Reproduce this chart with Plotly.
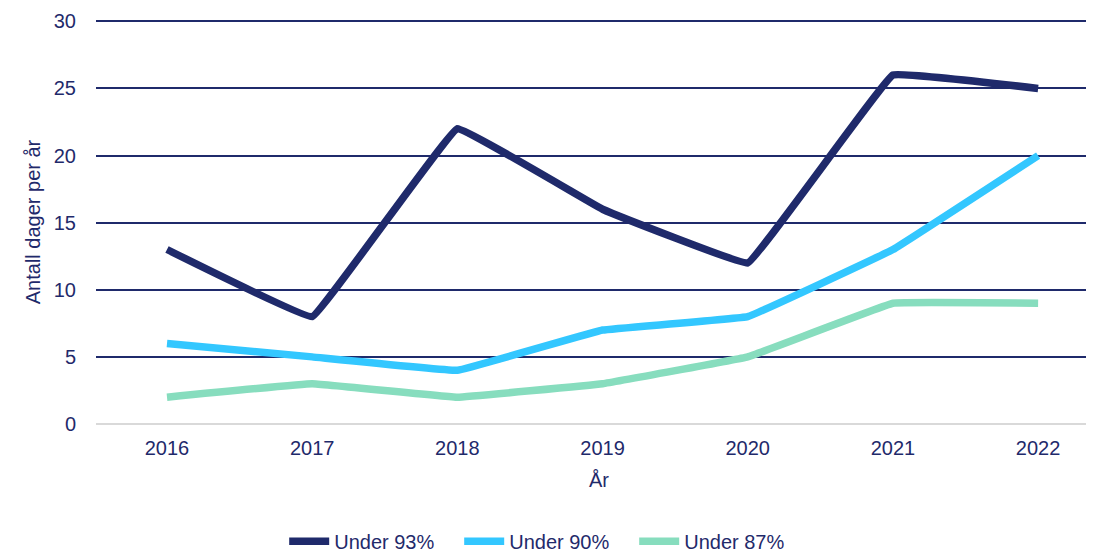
import plotly.graph_objects as go

years = ["2016", "2017", "2018", "2019", "2020", "2021", "2022"]
under_93 = [13, 8, 22, 16, 12, 26, 25]
under_90 = [6, 5, 4, 7, 8, 13, 20]
under_87 = [2, 3, 2, 3, 5, 9, 9]
series_names = ["Under 93%", "Under 90%", "Under 87%"]
colors = ["#1F2A6B", "#33C7FF", "#87DDBE"]
y_ticks = [0, 5, 10, 15, 20, 25, 30]

TEXT = "#1F2A6B"
FONT = "Liberation Sans, Arial, sans-serif"
FS = 20

fig = go.Figure()
for name, vals, col in zip(series_names, [under_93, under_90, under_87], colors):
    fig.add_trace(go.Scatter(
        x=years, y=vals, name=name, mode="lines",
        line=dict(color=col, width=7.5, shape="spline", smoothing=0.15),
    ))

fig.update_layout(
    width=1094, height=551,
    margin=dict(l=88, r=0, t=12.4, b=135, autoexpand=False),
    paper_bgcolor="white", plot_bgcolor="white",
    font=dict(family=FONT, size=FS, color=TEXT),
    showlegend=True,
    legend=dict(orientation="h", xref="paper", yref="paper",
                x=0.448, xanchor="center", y=-0.29, yanchor="middle",
                font=dict(size=FS, color=TEXT), itemwidth=40,
                entrywidth=120, entrywidthmode="pixels",
                tracegroupgap=0, bgcolor="rgba(0,0,0,0)"),
    xaxis=dict(type="category", range=[-0.489, 6.44],
               showgrid=False, showline=False, zeroline=False,
               ticks="", ticklabelstandoff=10, tickfont=dict(size=FS, color=TEXT),
               title=dict(text="År", font=dict(size=FS, color=TEXT), standoff=14)),
    yaxis=dict(range=[0, 30.1], tickvals=y_ticks,
               showgrid=True, gridcolor="#1F2A6B", gridwidth=1.5,
               zeroline=True, zerolinecolor="#D9D9D9", zerolinewidth=2,
               showline=False, ticks="", ticklabelstandoff=19,
               tickfont=dict(size=FS, color=TEXT),
               title=dict(text="Antall dager per år", font=dict(size=FS, color=TEXT), standoff=7)),
)

fig.write_html("out.html")
